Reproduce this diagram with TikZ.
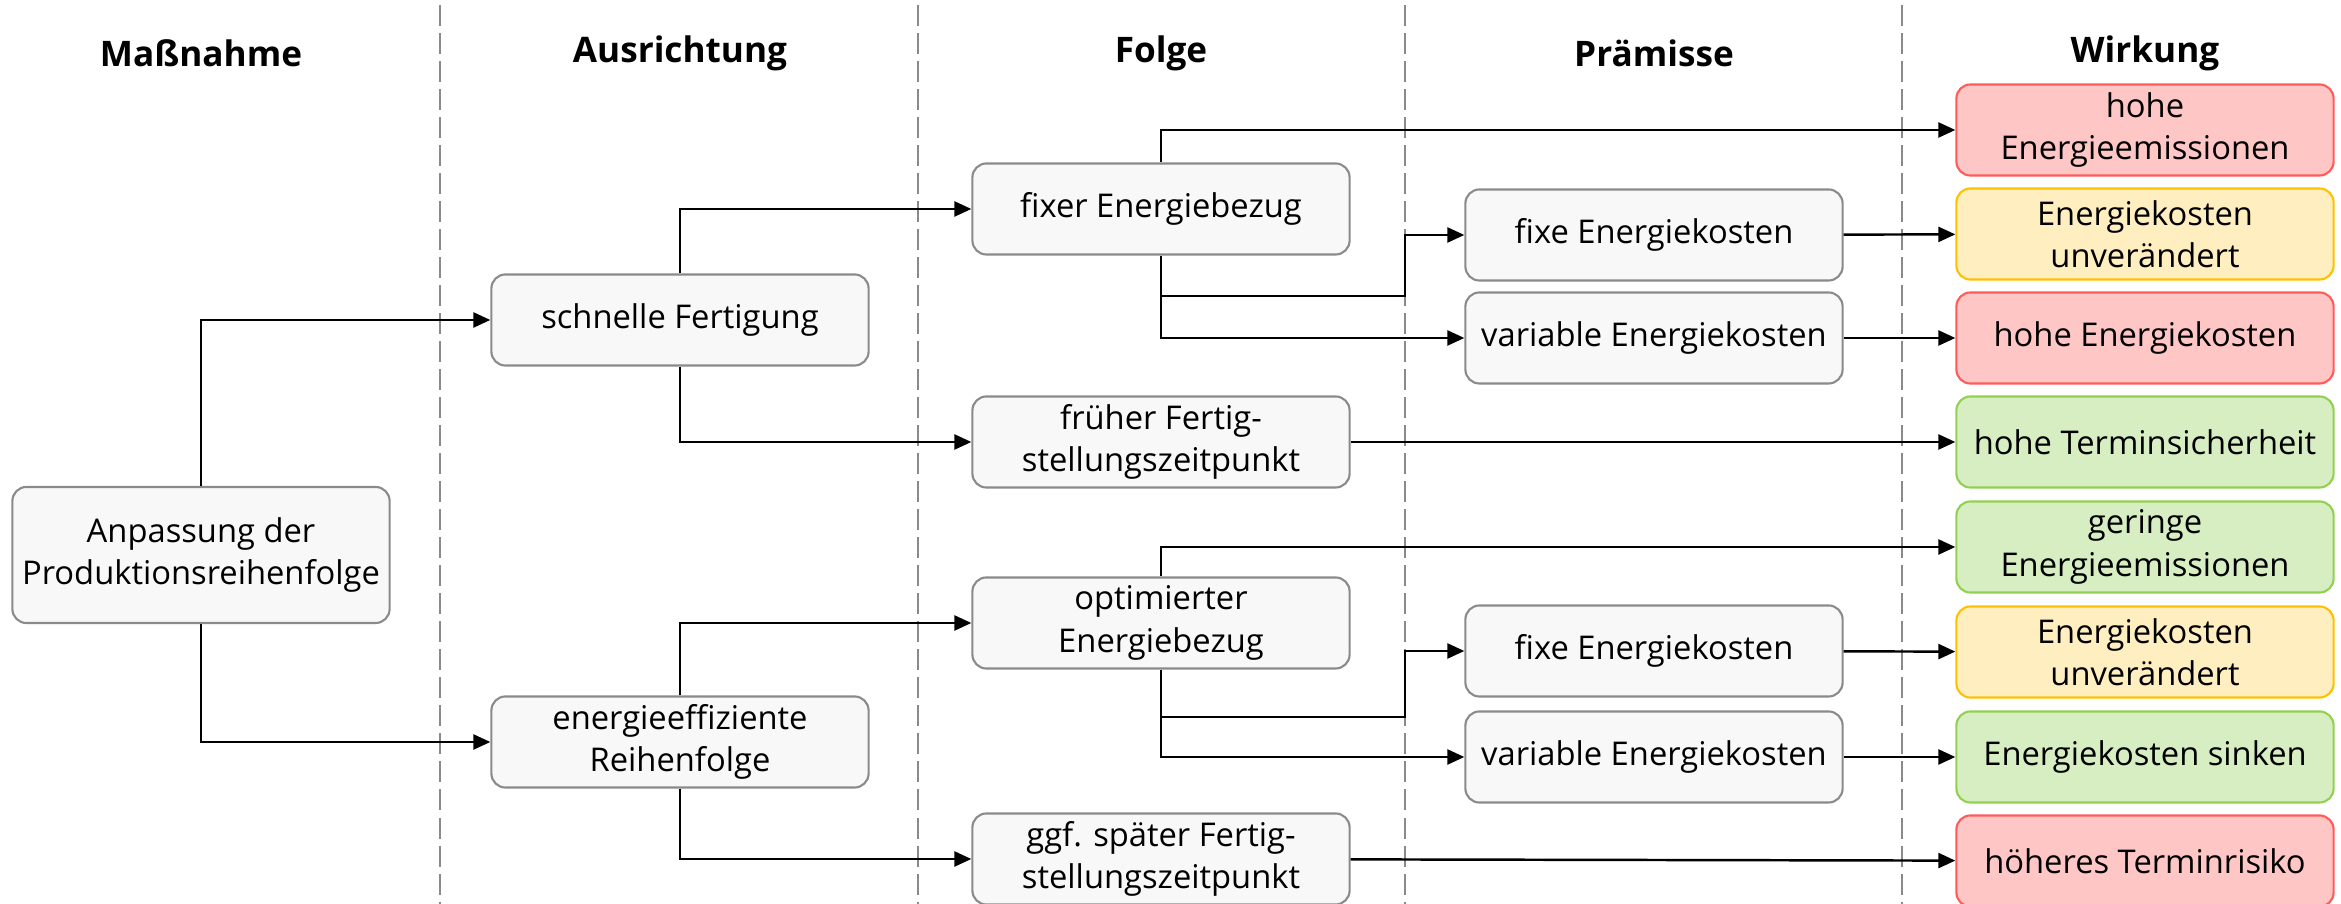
\documentclass[tikz,border=0pt]{standalone}
\usepackage{fontspec}
\setmainfont{Open Sans}
\usetikzlibrary{arrows.meta}

\definecolor{kastengrau}{HTML}{F8F8F8}
\definecolor{randgrau}{HTML}{8A8A8A}
\definecolor{rotfill}{HTML}{FFC6C6}
\definecolor{rotrand}{HTML}{FF5B5B}
\definecolor{gelbfill}{HTML}{FFEFC0}
\definecolor{gelbrand}{HTML}{FFC000}
\definecolor{gruenfill}{HTML}{D7EEC2}
\definecolor{gruenrand}{HTML}{92D050}

\tikzstyle{kasten}  =[draw=randgrau, fill=kastengrau, line width=0.6pt, rounded corners=0.14cm,
                      minimum width=3.77cm, minimum height=0.91cm, inner sep=2pt,
                      align=center, font=\fontsize{9.3}{12}\selectfont]
\tikzstyle{rot}     =[kasten, draw=rotrand, fill=rotfill]
\tikzstyle{gelb}    =[kasten, draw=gelbrand, fill=gelbfill]
\tikzstyle{gruen}   =[kasten, draw=gruenrand, fill=gruenfill]
\tikzstyle{titel}   =[font=\fontsize{10}{12}\selectfont\bfseries]
\tikzstyle{pfeil}   =[-{Triangle[length=0.17cm,width=0.15cm]}, line width=0.7pt]
\tikzstyle{trenner} =[randgrau, line width=0.55pt, dash pattern=on 0.21cm off 0.07cm]

\begin{document}
\begin{tikzpicture}[x=0.01cm,y=-0.01cm]

\useasboundingbox (0,0) rectangle (2341,904);

%%%%%%%%%%%%%%%%%%%%%%%%
%Spalten (x-Werte der Mitten)
%%%%%%%%%%%%%%%%%%%%%%%%
\def \xA {201}
\def \xB {680}
\def \xC {1161}
\def \xD {1654}
\def \xE {2145}

%Trennlinien zwischen den Spalten
\foreach \t in {440,918,1405,1902}{\draw[trenner] (\t,5)--(\t,904);}

%Spaltenueberschriften
\node[titel] (tA) at (\xA,53) {Maßnahme};
\node[titel] (tB) at (\xB,53) {Ausrichtung};
\node[titel] (tC) at (\xC,53) {Folge};
\node[titel] (tD) at (\xD,53) {Prämisse};
\node[titel] (tE) at (\xE,53) {Wirkung};

%%%%%%%%%%%%%%%%%%%%%%%%
%Kaesten
%%%%%%%%%%%%%%%%%%%%%%%%
\node[kasten, minimum height=1.36cm] (anp) at (\xA,555) {Anpassung der\\Produktionsreihenfolge};

\node[kasten] (schnell) at (\xB,320) {schnelle Fertigung};
\node[kasten] (effiz)   at (\xB,742) {energieeffiziente\\Reihenfolge};

\node[kasten] (fixer)   at (\xC,209) {fixer Energiebezug};
\node[kasten] (frueh)   at (\xC,442) {früher Fertig-\\stellungszeitpunkt};
\node[kasten] (optim)   at (\xC,623) {optimierter\\Energiebezug};
\node[kasten] (spaet)   at (\xC,859) {ggf. später Fertig-\\stellungszeitpunkt};

\node[kasten] (fixeA)   at (\xD,235) {fixe Energiekosten};
\node[kasten] (varA)    at (\xD,338) {variable Energiekosten};
\node[kasten] (fixeB)   at (\xD,651) {fixe Energiekosten};
\node[kasten] (varB)    at (\xD,757) {variable Energiekosten};

\node[rot]   (wA) at (\xE,130) {hohe\\Energieemissionen};
\node[gelb]  (wB) at (\xE,234) {Energiekosten\\unverändert};
\node[rot]   (wC) at (\xE,338) {hohe Energiekosten};
\node[gruen] (wD) at (\xE,442) {hohe Terminsicherheit};
\node[gruen] (wE) at (\xE,547) {geringe\\Energieemissionen};
\node[gelb]  (wF) at (\xE,652) {Energiekosten\\unverändert};
\node[gruen] (wG) at (\xE,757) {Energiekosten sinken};
\node[rot]   (wH) at (\xE,861) {höheres Terminrisiko};

%Knickpunkte auf der Trennlinie
\coordinate (kA) at (1405,296);
\coordinate (kB) at (1405,717);

%%%%%%%%%%%%%%%%%%%%%%%%
%Pfeile
%%%%%%%%%%%%%%%%%%%%%%%%
\draw[pfeil] (anp.north) |- (schnell.west);
\draw[pfeil] (anp.south) |- (effiz.west);

\draw[pfeil] (schnell.north) |- (fixer.west);
\draw[pfeil] (schnell.south) |- (frueh.west);
\draw[pfeil] (effiz.north) |- (optim.west);
\draw[pfeil] (effiz.south) |- (spaet.west);

\draw[pfeil] (fixer.north) |- (wA.west);
\draw[pfeil] (fixer.south) |- (kA) |- (fixeA.west);
\draw[pfeil] (fixer.south) |- (varA.west);
\draw[pfeil] (optim.north) |- (wE.west);
\draw[pfeil] (optim.south) |- (kB) |- (fixeB.west);
\draw[pfeil] (optim.south) |- (varB.west);

\draw[pfeil] (fixeA) -- (wB);
\draw[pfeil] (varA) -- (wC);
\draw[pfeil] (frueh) -- (wD);
\draw[pfeil] (fixeB) -- (wF);
\draw[pfeil] (varB) -- (wG);
\draw[pfeil] (spaet) -- (wH);

\end{tikzpicture}
\end{document}
